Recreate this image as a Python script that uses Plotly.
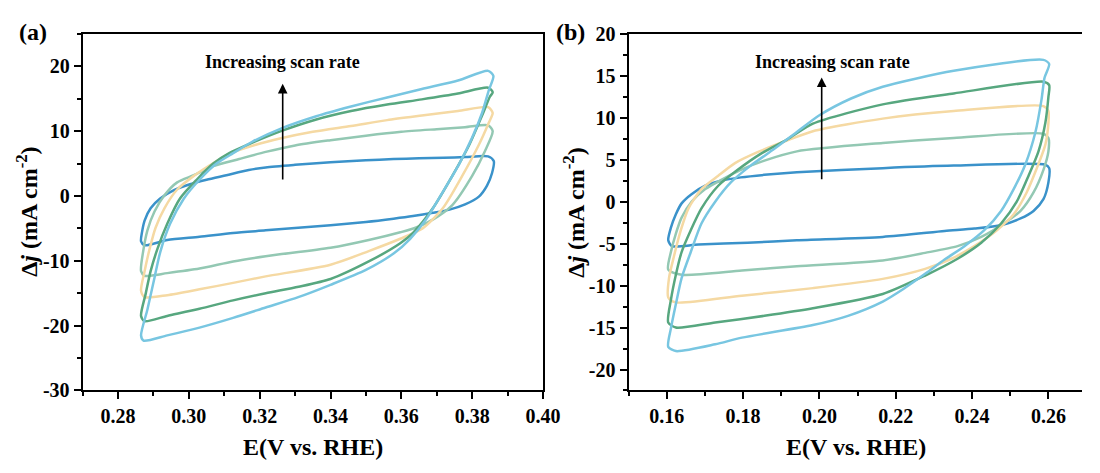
import plotly.graph_objects as go

# ---------------- data: panel (a) ----------------
a_blue_E = [0.2865, 0.2868, 0.2875, 0.2892, 0.2919, 0.2958, 0.3003, 0.305, 0.3106, 0.3169, 0.3217, 0.33, 0.34, 0.35, 0.3578, 0.365, 0.372, 0.378, 0.3845,
            0.3861, 0.3856, 0.3842, 0.3819, 0.378, 0.3736, 0.3689, 0.3633, 0.3578, 0.35, 0.34, 0.3217, 0.3125, 0.303, 0.2939, 0.2875, 0.2865]
a_blue_j = [-7.0, -5.5, -3.8, -1.9, -0.4, 0.9, 1.8, 2.5, 3.2, 4.0, 4.4, 4.8, 5.2, 5.5, 5.7, 5.8, 5.9, 6.0, 6.1,
            5.4, 3.5, 1.6, -0.1, -1.3, -2.1, -2.6, -3.1, -3.5, -4.0, -4.5, -5.3, -5.7, -6.3, -6.8, -7.6, -7.0]

a_sage_E = [0.2865, 0.2872, 0.2883, 0.2903, 0.2931, 0.2967, 0.3014, 0.3069, 0.3142, 0.3217, 0.33, 0.34, 0.35, 0.36, 0.37, 0.378, 0.3845,
            0.3858, 0.3836, 0.38, 0.3744, 0.369, 0.364, 0.3597, 0.3508, 0.34, 0.3217, 0.3125, 0.303, 0.2939, 0.2875, 0.2865]
a_sage_j = [-11.6, -8.2, -5.3, -2.4, 0.1, 2.1, 3.2, 4.6, 5.7, 6.8, 7.8, 8.6, 9.3, 9.9, 10.3, 10.6, 10.9,
            10.0, 6.9, 3.1, -1.4, -3.6, -4.9, -5.6, -6.8, -8.0, -9.3, -10.1, -11.2, -11.9, -12.3, -11.6]

a_yell_E = [0.2865, 0.2875, 0.2889, 0.2906, 0.2931, 0.2967, 0.3014, 0.3058, 0.3114, 0.3189, 0.326, 0.335, 0.3458, 0.356, 0.3658, 0.376, 0.3845,
            0.3858, 0.3847, 0.3819, 0.3772, 0.3717, 0.366, 0.3597, 0.3508, 0.34, 0.3217, 0.3125, 0.303, 0.2939, 0.2875, 0.2865]
a_yell_j = [-14.6, -11.6, -8.2, -4.9, -1.9, 1.0, 3.1, 4.7, 6.5, 7.9, 8.9, 9.9, 10.8, 11.7, 12.4, 13.1, 13.7,
            12.8, 11.3, 7.9, 3.1, -1.9, -5.0, -6.6, -8.5, -10.6, -12.4, -13.4, -14.4, -15.3, -15.6, -14.6]

a_green_E = [0.2865, 0.2878, 0.2892, 0.2911, 0.2939, 0.2975, 0.3022, 0.3069, 0.3114, 0.317, 0.326, 0.336, 0.3458, 0.356, 0.3658, 0.376, 0.3845,
             0.3858, 0.385, 0.3828, 0.3792, 0.3744, 0.3689, 0.3633, 0.3597, 0.3508, 0.34, 0.331, 0.3217, 0.3125, 0.303, 0.2939, 0.2875, 0.2865]
a_green_j = [-18.5, -15.1, -11.6, -8.2, -4.3, -0.4, 2.5, 5.0, 6.6, 8.0, 10.0, 11.8, 13.1, 14.1, 14.9, 15.8, 16.7,
             16.0, 15.3, 12.4, 7.9, 3.1, -1.9, -5.7, -7.3, -10.1, -12.8, -14.0, -15.0, -16.1, -17.4, -18.5, -19.3, -18.5]

a_lblue_E = [0.2865, 0.2883, 0.2903, 0.2919, 0.2947, 0.2986, 0.303, 0.3078, 0.3125, 0.318, 0.326, 0.336, 0.3458, 0.356, 0.3658, 0.376, 0.3845,
             0.386, 0.3847, 0.3828, 0.38, 0.3764, 0.3717, 0.367, 0.3625, 0.358, 0.35, 0.34, 0.3309, 0.3217, 0.3125, 0.303, 0.2939, 0.2872, 0.2865]
a_lblue_j = [-21.5, -17.5, -12.6, -8.7, -4.3, -0.4, 2.5, 5.0, 6.6, 8.4, 10.4, 12.3, 13.8, 15.2, 16.5, 17.8, 19.3,
             18.5, 16.3, 12.8, 9.0, 5.0, 0.6, -3.6, -6.6, -8.8, -11.4, -13.7, -15.6, -17.2, -18.8, -20.3, -21.5, -22.3, -21.5]

# ---------------- data: panel (b) ----------------
b_blue_E = [0.1604, 0.1611, 0.1624, 0.1639, 0.1665, 0.1701, 0.1743, 0.1794, 0.1856, 0.1941, 0.2166, 0.2352, 0.2592,
            0.2602, 0.26, 0.2587, 0.2561, 0.2527, 0.2476, 0.2406, 0.2328, 0.2166, 0.1941, 0.1812, 0.1683, 0.1614, 0.1604]
b_blue_j = [-4.6, -3.1, -1.5, -0.2, 0.9, 1.9, 2.5, 2.9, 3.2, 3.5, 4.0, 4.3, 4.4,
            4.0, 2.3, 0.3, -1.1, -2.0, -2.8, -3.2, -3.5, -4.2, -4.6, -4.9, -5.1, -5.3, -4.6]

b_sage_E = [0.1604, 0.1611, 0.1624, 0.1639, 0.1665, 0.1701, 0.1743, 0.1794, 0.1856, 0.1941, 0.2166, 0.2352, 0.2587,
            0.2600, 0.2600, 0.2587, 0.2561, 0.2527, 0.2483, 0.2424, 0.2362, 0.2277, 0.2166, 0.1941, 0.1797, 0.1639, 0.1604]
b_sage_j = [-8.1, -6.0, -3.8, -1.9, 0.0, 1.5, 2.6, 3.8, 4.9, 6.0, 7.0, 7.6, 8.1,
            7.6, 6.0, 3.8, 1.1, -1.1, -2.6, -4.2, -5.3, -6.1, -7.0, -7.7, -8.2, -8.7, -8.1]

b_yell_E = [0.1604, 0.1606, 0.1619, 0.1637, 0.1657, 0.1691, 0.1735, 0.1779, 0.1838, 0.191, 0.1983, 0.2166, 0.2352, 0.2587,
            0.2600, 0.2600, 0.2592, 0.2568, 0.2543, 0.2509, 0.2465, 0.2406, 0.2346, 0.2277, 0.2166, 0.1983, 0.1797, 0.1624, 0.1604]
b_yell_j = [-11.4, -9.1, -6.5, -3.4, -0.8, 1.5, 3.1, 4.6, 5.9, 7.2, 8.4, 9.9, 10.8, 11.4,
            10.8, 9.4, 6.8, 3.8, 1.1, -1.5, -3.4, -5.3, -6.8, -8.0, -9.2, -10.3, -11.2, -12.0, -11.4]

b_green_E = [0.1604, 0.1611, 0.1624, 0.1639, 0.1663, 0.1691, 0.1735, 0.1786, 0.1846, 0.1915, 0.1983, 0.2166, 0.2352, 0.2587,
             0.2602, 0.2600, 0.2592, 0.2574, 0.2548, 0.2517, 0.2476, 0.2424, 0.2362, 0.2277, 0.2166, 0.1983, 0.1856, 0.1727, 0.1624, 0.1604]
b_green_j = [-14.4, -11.7, -8.7, -6.0, -3.4, -0.8, 1.9, 3.8, 5.7, 7.4, 9.3, 11.6, 12.9, 14.3,
             13.9, 12.5, 9.4, 6.0, 3.1, 0.0, -2.6, -4.9, -6.8, -8.8, -11.0, -12.7, -13.6, -14.4, -15.0, -14.4]

b_lblue_E = [0.1604, 0.1611, 0.1624, 0.1639, 0.1663, 0.1691, 0.1727, 0.1768, 0.182, 0.1882, 0.1941, 0.2, 0.2083, 0.2166, 0.2352, 0.2587,
             0.2602, 0.259, 0.2582, 0.2566, 0.254, 0.2509, 0.2476, 0.2432, 0.238, 0.2328, 0.2277, 0.222, 0.2166, 0.2075, 0.1983, 0.1797, 0.1727, 0.1624, 0.1604]
b_lblue_j = [-17.3, -15.1, -12.2, -9.1, -6.0, -2.6, 0.0, 2.3, 4.3, 6.3, 8.3, 10.3, 12.3, 13.7, 15.6, 16.9,
             16.4, 14.8, 12.2, 8.3, 4.5, 1.5, -1.1, -3.4, -5.3, -6.9, -8.6, -10.4, -11.9, -13.6, -14.7, -16.2, -17.0, -17.8, -17.3]

series_colors = ["#3A92CA", "#93C8B3", "#F5D9A3", "#57A77F", "#78C6E1"]

a_x_ticks = [0.28, 0.30, 0.32, 0.34, 0.36, 0.38, 0.40]
a_y_ticks = [-30, -20, -10, 0, 10, 20]
b_x_ticks = [0.16, 0.18, 0.20, 0.22, 0.24, 0.26]
b_y_ticks = [-20, -15, -10, -5, 0, 5, 10, 15, 20]

W, H = 1100, 473
FONT = "Liberation Serif"

fig = go.Figure()

panel_a = [(a_blue_E, a_blue_j), (a_sage_E, a_sage_j), (a_yell_E, a_yell_j), (a_green_E, a_green_j), (a_lblue_E, a_lblue_j)]
panel_b = [(b_blue_E, b_blue_j), (b_sage_E, b_sage_j), (b_yell_E, b_yell_j), (b_green_E, b_green_j), (b_lblue_E, b_lblue_j)]

for (E, j), c in zip(panel_a, series_colors):
    fig.add_trace(go.Scatter(x=E, y=j, mode="lines",
                             line=dict(color=c, width=2.5, shape="spline", smoothing=0.7),
                             xaxis="x", yaxis="y", showlegend=False, hoverinfo="skip"))
for (E, j), c in zip(panel_b, series_colors):
    fig.add_trace(go.Scatter(x=E, y=j, mode="lines",
                             line=dict(color=c, width=2.5, shape="spline", smoothing=0.7),
                             xaxis="x2", yaxis="y2", showlegend=False, hoverinfo="skip"))

ydom = [75 / H, 449 / H]
tickfont = dict(family=FONT, size=20, color="black", weight="bold")
common = dict(showline=True, linecolor="black", linewidth=2, ticks="outside", ticklen=7,
              tickwidth=2, tickcolor="black", showgrid=False, zeroline=False, tickfont=tickfont)


def ylab(v):
    return str(v)  # plain hyphen-minus, as in the reference


fig.update_layout(
    width=W, height=H,
    margin=dict(l=0, r=0, t=0, b=0),
    paper_bgcolor="white", plot_bgcolor="white",
    font=dict(family=FONT, color="black"),
    xaxis=dict(domain=[84 / W, 552 / W], range=[0.27, 0.40], anchor="y", mirror=True,
               tickvals=a_x_ticks, ticktext=[f"{v:.2f}" for v in a_x_ticks],
               minor=dict(dtick=0.01, tick0=0.27, ticks="outside", ticklen=4, tickwidth=1.5, tickcolor="black"),
               **common),
    yaxis=dict(domain=ydom, range=[-30, 25], anchor="x", mirror=True,
               tickvals=a_y_ticks, ticktext=[ylab(v) for v in a_y_ticks],
               minor=dict(dtick=5, tick0=0, ticks="outside", ticklen=4, tickwidth=1.5, tickcolor="black"),
               **common),
    xaxis2=dict(domain=[639 / W, 1.0], range=[0.15, 0.2688], anchor="y2", mirror=True,
                tickvals=b_x_ticks, ticktext=[f"{v:.2f}" for v in b_x_ticks],
                minor=dict(dtick=0.01, tick0=0.15, ticks="outside", ticklen=4, tickwidth=1.5, tickcolor="black"),
                **common),
    yaxis2=dict(domain=ydom, range=[-22.5, 20], anchor="x2", mirror=False,
                tickvals=b_y_ticks, ticktext=[ylab(v) for v in b_y_ticks],
                minor=dict(dtick=2.5, tick0=0, ticks="outside", ticklen=4, tickwidth=1.5, tickcolor="black"),
                **common),
)

title_font = dict(family=FONT, size=24, color="black", weight="bold")
ymid = (ydom[0] + ydom[1]) / 2
ann = [
    dict(text="E(V vs. RHE)", xref="paper", yref="paper", x=318 / W, y=1 - 457 / H,
         showarrow=False, font=title_font, xanchor="center", yanchor="middle"),
    dict(text="E(V vs. RHE)", xref="paper", yref="paper", x=870 / W, y=1 - 457 / H,
         showarrow=False, font=title_font, xanchor="center", yanchor="middle"),
    dict(text="Δ<i>j</i> (mA cm<sup>-2</sup>)", xref="paper", yref="paper", x=28 / W, y=ymid,
         textangle=-90, showarrow=False, font=title_font, xanchor="center", yanchor="middle"),
    dict(text="Δ<i>j</i> (mA cm<sup>-2</sup>)", xref="paper", yref="paper", x=584 / W, y=ymid,
         textangle=-90, showarrow=False, font=title_font, xanchor="center", yanchor="middle"),
    dict(text="(a)", xref="paper", yref="paper", x=34 / W, y=1 - 22 / H,
         showarrow=False, font=title_font, xanchor="center", yanchor="middle"),
    dict(text="(b)", xref="paper", yref="paper", x=580 / W, y=1 - 22 / H,
         showarrow=False, font=title_font, xanchor="center", yanchor="middle"),
    dict(text="Increasing scan rate", xref="x", yref="y", x=0.3265, y=20.7,
         showarrow=False, font=dict(family=FONT, size=18, color="black", weight="bold")),
    dict(text="Increasing scan rate", xref="x2", yref="y2", x=0.2034, y=16.7,
         showarrow=False, font=dict(family=FONT, size=18, color="black", weight="bold")),
    dict(text="", xref="x", yref="y", x=0.3265, y=17.3, axref="x", ayref="y", ax=0.3265, ay=2.3,
         showarrow=True, arrowhead=2, arrowsize=1.2, arrowwidth=1.6, arrowcolor="black"),
    dict(text="", xref="x2", yref="y2", x=0.2006, y=14.8, axref="x2", ayref="y2", ax=0.2006, ay=2.5,
         showarrow=True, arrowhead=2, arrowsize=1.2, arrowwidth=1.6, arrowcolor="black"),
]
fig.update_layout(annotations=ann)

fig.write_html("out.html")
